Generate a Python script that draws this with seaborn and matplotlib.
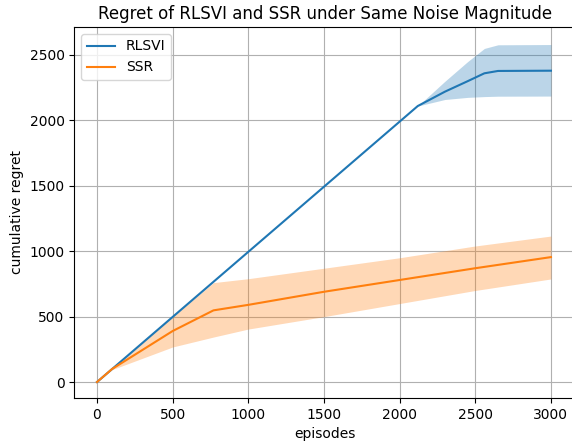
import numpy as np
import pandas as pd
import matplotlib
matplotlib.use("Agg")
import matplotlib.pyplot as plt
import seaborn as sns

# RLSVI: mean curve and band edges
rlsvi_ep = [0, 2120, 2300, 2450, 2560, 2650, 3000]
rlsvi_mean = [0, 2110, 2220, 2300, 2360, 2378, 2380]
rlsvi_upper = [0, 2110, 2300, 2450, 2550, 2578, 2580]
rlsvi_lower = [0, 2110, 2160, 2176, 2182, 2185, 2186]

# SSR
ssr_ep = [0, 100, 500, 770, 1000, 1500, 2000, 2500, 3000]
ssr_mean = [0, 100, 390, 548, 590, 690, 780, 870, 955]
ssr_upper = [0, 100, 500, 760, 790, 870, 950, 1040, 1116]
ssr_lower = [0, 95, 268, 344, 405, 500, 600, 700, 788]

# plain matplotlib look, seaborn only draws the lines
plt.style.use("default")
fig = plt.figure(figsize=(5.72, 4.44), dpi=100)
# the right spine falls just outside the picture, as in the reference
ax = fig.add_axes([74.3 / 572, 46 / 444, 501.6 / 572, 371 / 444])

blue, orange = sns.color_palette("tab10")[:2]

rl = pd.DataFrame({"episodes": rlsvi_ep, "regret": rlsvi_mean})
ss = pd.DataFrame({"episodes": ssr_ep, "regret": ssr_mean})

sns.lineplot(data=rl, x="episodes", y="regret", color=blue, label="RLSVI", ax=ax, zorder=3)
ax.fill_between(rlsvi_ep, rlsvi_lower, rlsvi_upper, color=blue, alpha=0.3, linewidth=0)
sns.lineplot(data=ss, x="episodes", y="regret", color=orange, label="SSR", ax=ax, zorder=3)
ax.fill_between(ssr_ep, ssr_lower, ssr_upper, color=orange, alpha=0.3, linewidth=0)

ax.set_xticks([0, 500, 1000, 1500, 2000, 2500, 3000])
ax.set_yticks([0, 500, 1000, 1500, 2000, 2500])
ax.set_xlim(-150, 3165)
ax.set_ylim(-122, 2714)
ax.grid(True)
ax.set_axisbelow(True)
ax.set_xlabel("episodes")
ax.set_ylabel("cumulative regret")
ax.set_title("Regret of RLSVI and SSR under Same Noise Magnitude")
ax.legend(loc="upper left")

fig.savefig("out.png", dpi=100)
